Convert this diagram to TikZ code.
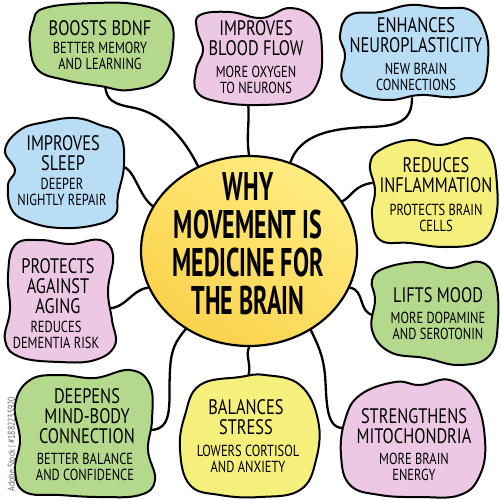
\documentclass[tikz,border=0pt]{standalone}
\usepackage{fontspec}
\usetikzlibrary{shapes.geometric}
\newfontfamily\hand[FakeStretch=0.78]{PT Sans}
\newfontfamily\titlehand[FakeStretch=0.6]{PT Sans}
\definecolor{bgreen}{HTML}{B4D98C}
\definecolor{bpink}{HTML}{ECC8E4}
\definecolor{bblue}{HTML}{B8DDF5}
\definecolor{byellow}{HTML}{F5EF7C}
\definecolor{hubtop}{HTML}{FFEC80}
\definecolor{hubbot}{HTML}{FAD24C}
\tikzset{
  blob/.style={draw=black, line width=2pt, line join=round},
  conn/.style={draw=black, line width=2.3pt, line cap=round},
  hd/.style={font=\hand\fontsize{21}{20}\selectfont, align=center, inner sep=0pt},
  sb/.style={font=\hand\fontsize{16}{15.5}\selectfont, align=center, inner sep=0pt},
  ttl/.style={font=\titlehand\bfseries\fontsize{40}{38}\selectfont, align=center, inner sep=0pt},
}
\begin{document}
\begin{tikzpicture}[x=1pt,y=-1pt]
\useasboundingbox (0,0) rectangle (500,499);
\fill[white] (0,0) rectangle (500,499);

% hub
\node[ellipse, draw=black, line width=2.2pt, minimum width=216pt, minimum height=190pt,
      inner sep=0pt, top color=hubtop, bottom color=hubbot, shading angle=-35] (hub) at (249,251) {};

% connector anchor points on the blobs
\coordinate (bdnf-c) at (105,86);
\coordinate (blood-c) at (248,103);
\coordinate (neuro-c) at (412,98);
\coordinate (sleep-c) at (121,166);
\coordinate (inflam-c) at (372,183);
\coordinate (aging-c) at (102,308);
\coordinate (mood-c) at (373,315);
\coordinate (mind-c) at (150,430);
\coordinate (stress-c) at (248,378);
\coordinate (mito-c) at (343,428);

% connectors
\draw[conn] (bdnf-c) .. controls (107,100) and (112,104) .. (135,108) .. controls (165,115) and (185,140) .. (hub.121);
\draw[conn] (blood-c) .. controls (250,120) and (246,135) .. (hub.90);
\draw[conn] (neuro-c) .. controls (412,120) and (400,126) .. (370,127) .. controls (330,128) and (300,135) .. (hub.65);
\draw[conn] (sleep-c) .. controls (135,168) and (138,195) .. (hub.155);
\draw[conn] (inflam-c) .. controls (355,185) and (352,196) .. (hub.28);
\draw[conn] (aging-c) .. controls (125,312) and (130,290) .. (hub.200);
\draw[conn] (mood-c) .. controls (358,312) and (365,290) .. (hub.-20);
\draw[conn] (mind-c) .. controls (175,430) and (168,400) .. (170,370) .. controls (171,350) and (175,342) .. (hub.231);
\draw[conn] (stress-c) .. controls (252,362) and (245,358) .. (hub.270);
\draw[conn] (mito-c) .. controls (325,428) and (327,400) .. (325,375) .. controls (323,355) and (318,345) .. (hub.308);

% blobs
\draw[blob, fill=bgreen] plot[smooth cycle, tension=0.7] coordinates {(45,8) (95,3) (140,5) (168,18) (173,45) (162,78) (130,90) (100,86) (65,80) (38,70) (30,45) (33,22)};
\draw[blob, fill=bpink] plot[smooth cycle, tension=0.7] coordinates {(200,15) (230,12) (262,18) (290,8) (315,20) (322,50) (318,82) (300,100) (260,105) (220,102) (197,92) (196,70) (203,50) (197,30)};
\draw[blob, fill=bblue] plot[smooth cycle, tension=0.7] coordinates {(350,15) (380,12) (410,5) (440,8) (470,10) (485,30) (488,60) (480,88) (455,97) (420,95) (390,100) (360,95) (342,80) (345,55) (340,35)};
\draw[blob, fill=bblue] plot[smooth cycle, tension=0.7] coordinates {(20,130) (45,122) (75,118) (100,125) (120,135) (124,165) (118,195) (115,215) (95,225) (60,228) (30,222) (12,210) (8,185) (15,170) (5,150)};
\draw[blob, fill=byellow] plot[smooth cycle, tension=0.7] coordinates {(380,150) (410,140) (440,145) (470,138) (490,150) (497,185) (495,220) (480,242) (445,247) (410,243) (380,240) (372,215) (375,190) (370,165)};
\draw[blob, fill=bpink] plot[smooth cycle, tension=0.7] coordinates {(15,245) (40,240) (70,244) (100,240) (113,255) (108,290) (112,320) (115,345) (95,360) (60,362) (20,357) (5,340) (10,310) (8,275)};
\draw[blob, fill=bgreen] plot[smooth cycle, tension=0.7] coordinates {(385,268) (420,262) (450,268) (480,262) (495,280) (498,320) (490,355) (460,365) (425,358) (390,352) (372,330) (375,300) (372,280)};
\draw[blob, fill=bgreen] plot[smooth cycle, tension=0.7] coordinates {(30,380) (60,375) (95,378) (130,370) (150,385) (152,420) (148,450) (155,480) (140,495) (100,497) (60,495) (25,492) (15,470) (20,440) (15,405)};
\draw[blob, fill=byellow] plot[smooth cycle, tension=0.7] coordinates {(200,385) (240,377) (265,375) (300,385) (318,420) (316,460) (300,490) (260,497) (220,495) (190,485) (180,450) (185,415)};
\draw[blob, fill=bpink] plot[smooth cycle, tension=0.7] coordinates {(360,395) (395,382) (420,385) (450,380) (475,400) (485,440) (480,475) (460,495) (420,497) (380,495) (350,485) (341,455) (345,420)};

% texts
\node[ttl] (title) at (248,244) {WHY\\MOVEMENT IS\\MEDICINE FOR\\THE BRAIN};

\node[hd] (bdnf) at (100,28) {BOOSTS BDNF};
\node[sb] (bdnf-s) at (100,56) {BETTER MEMORY\\AND LEARNING};

\node[hd] (blood) at (256,38) {IMPROVES\\BLOOD FLOW};
\node[sb] (blood-s) at (256,80) {MORE OXYGEN\\TO NEURONS};

\node[hd] (neuro) at (416,35) {ENHANCES\\NEUROPLASTICITY};
\node[sb] (neuro-s) at (416,77) {NEW BRAIN\\CONNECTIONS};

\node[hd] (sleep) at (63,153) {IMPROVES\\SLEEP};
\node[sb] (sleep-s) at (62,192) {DEEPER\\NIGHTLY REPAIR};

\node[hd] (inflam) at (436,175) {REDUCES\\INFLAMMATION};
\node[sb] (inflam-s) at (436,218) {PROTECTS BRAIN\\CELLS};

\node[hd] (aging) at (58,286) {PROTECTS\\AGAINST\\AGING};
\node[sb] (aging-s) at (56,335) {REDUCES\\DEMENTIA RISK};

\node[hd] (mood) at (438,295) {LIFTS MOOD};
\node[sb] (mood-s) at (438,326) {MORE DOPAMINE\\AND SEROTONIN};

\node[hd] (mind) at (87,416) {DEEPENS\\MIND-BODY\\CONNECTION};
\node[sb] (mind-s) at (85,467) {BETTER BALANCE\\AND CONFIDENCE};

\node[hd] (stress) at (246,417) {BALANCES\\STRESS};
\node[sb] (stress-s) at (248,459) {LOWERS CORTISOL\\AND ANXIETY};

\node[hd] (mito) at (414,426) {STRENGTHENS\\MITOCHONDRIA};
\node[sb] (mito-s) at (414,467) {MORE BRAIN\\ENERGY};

\node[font=\hand\fontsize{10}{10}\selectfont, text=black!60, rotate=90, inner sep=0pt] (wm) at (12,444) {Adobe Stock | \#1882235920};
\end{tikzpicture}
\end{document}
